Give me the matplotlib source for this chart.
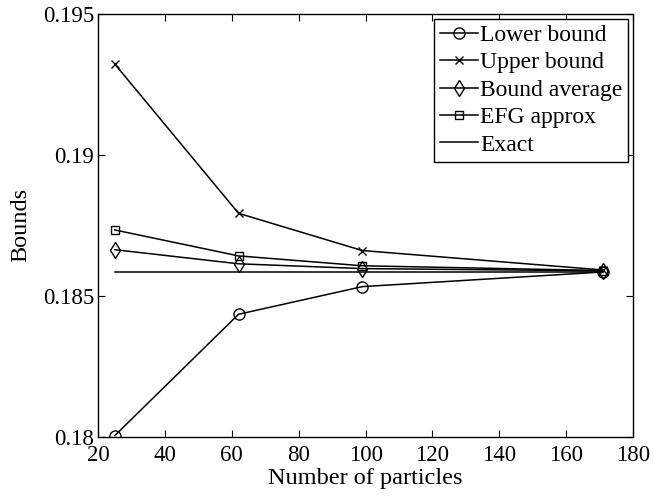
import matplotlib
matplotlib.use("Agg")
import matplotlib.pyplot as plt

plt.rcParams['font.family'] = ['Liberation Serif', 'DejaVu Serif']
plt.rcParams['mathtext.fontset'] = 'stix'

# particle counts and computed bounds
n_particles = [25, 62, 99, 171]
lower_bound = [0.18005, 0.18435, 0.18533, 0.18585]
upper_bound = [0.19322, 0.18793, 0.18661, 0.18592]
bound_avg = [0.18664, 0.18614, 0.18597, 0.18589]
efg_approx = [0.18734, 0.18642, 0.18607, 0.18590]
exact_value = 0.18584

x_ticks = [20, 40, 60, 80, 100, 120, 140, 160, 180]
y_ticks = [0.18, 0.185, 0.19, 0.195]
y_tick_labels = ['0.18', '0.185', '0.19', '0.195']

fig = plt.figure(figsize=(6.54, 4.96), dpi=100)
ax = fig.add_axes([0.150, 0.119, 0.818, 0.853])

lw = 1.1
ax.plot(n_particles, lower_bound, color='black', lw=lw, marker='o', ms=8,
        mfc='none', mec='black', mew=1.0, label='Lower bound')
ax.plot(n_particles, upper_bound, color='black', lw=lw, marker='x', ms=6,
        mew=1.0, label='Upper bound')
ax.plot(n_particles, bound_avg, color='black', lw=lw, marker='d', ms=8,
        mfc='none', mec='black', mew=1.0, label='Bound average')
ax.plot(n_particles, efg_approx, color='black', lw=lw, marker='s', ms=6,
        mfc='none', mec='black', mew=1.0, label='EFG approx')
ax.plot([n_particles[0], n_particles[-1]], [exact_value, exact_value],
        color='black', lw=lw, label='Exact')

ax.set_xlim(20, 180)
ax.set_ylim(0.18, 0.195)
ax.set_xticks(x_ticks)
ax.set_yticks(y_ticks)
ax.set_yticklabels(y_tick_labels)
ax.tick_params(direction='in', top=True, right=True, length=5, width=0.8,
               labelsize=16.5, colors='black')
ax.tick_params(axis='y', pad=3)
ax.tick_params(axis='x', pad=6)
for s in ax.spines.values():
    s.set_linewidth(1.0)

ax.set_xlabel('Number of particles', fontsize=17.5, labelpad=1)
ax.set_ylabel('Bounds', fontsize=17.5, labelpad=8)

leg = ax.legend(loc='upper right', fontsize=17, frameon=True, fancybox=False,
                edgecolor='black', framealpha=1, borderaxespad=0.2,
                handlelength=1.6, handletextpad=0.1, labelspacing=0.25,
                borderpad=0.25)
leg.get_frame().set_linewidth(1.0)

fig.savefig('out.png', dpi=100)
